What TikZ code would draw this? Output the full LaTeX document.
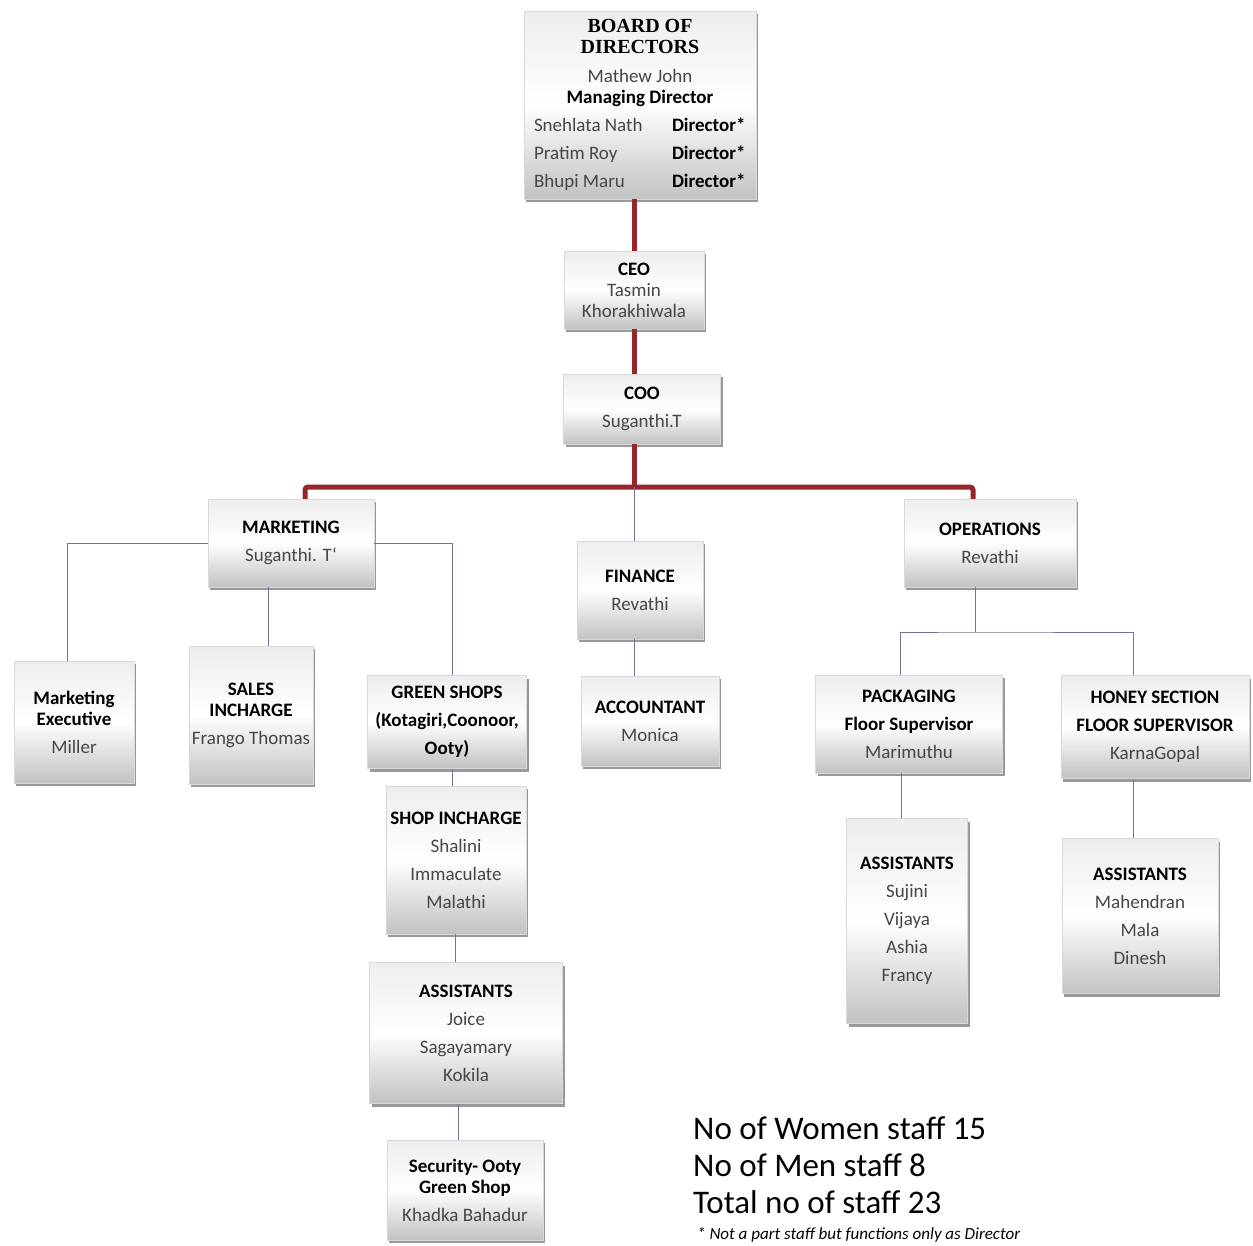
\documentclass[tikz,border=0pt]{standalone}
\usepackage{fontspec}
\setmainfont{Carlito}
\newfontfamily\headfont{Liberation Serif}
\usetikzlibrary{shadows}
\definecolor{redln}{RGB}{150,38,44}
\definecolor{conncol}{RGB}{115,115,155}
\definecolor{nmcol}{RGB}{70,70,70}
\newcommand\pname[1]{{\color{nmcol}#1}}
\begin{document}
\begin{tikzpicture}[x=1pt,y=-1pt,
 box/.style={draw=gray!30, line width=0.4pt, top color=gray!14, bottom color=gray!48, middle color=white,
   drop shadow={shadow xshift=2pt,shadow yshift=-3pt,opacity=0.4,fill=black},
   align=center, font=\fontsize{19}{28}\selectfont, inner sep=1pt, text=black},
 redline/.style={draw=redln, line width=5pt, rounded corners=3pt},
 conn/.style={draw=conncol, line width=0.8pt},
 stat/.style={font=\fontsize{33}{39}\selectfont, anchor=base west, inner sep=0pt}]
\useasboundingbox[fill=white] (0,0) rectangle (1253,1245);

% boxes
\node[box, minimum width=232, minimum height=188] (board) at (640,105) {%
{\headfont\bfseries\fontsize{20}{28}\selectfont BOARD OF}\\[-7pt]
{\headfont\bfseries\fontsize{20}{28}\selectfont DIRECTORS}\\[1pt]
\pname{Mathew John}\\[-7pt]
\textbf{Managing Director}\\
\makebox[212pt][l]{\pname{Snehlata Nath}\hfill\makebox[74pt][l]{\textbf{Director*}}}\\
\makebox[212pt][l]{\pname{Pratim Roy}\hfill\makebox[74pt][l]{\textbf{Director*}}}\\
\makebox[212pt][l]{\pname{Bhupi Maru}\hfill\makebox[74pt][l]{\textbf{Director*}}}};

\node[box, minimum width=140, minimum height=78] (ceo) at (634,290)
 {\textbf{CEO}\\[-7pt]\pname{Tasmin}\\[-7pt]\pname{Khorakhiwala}};
\node[box, minimum width=157, minimum height=70] (coo) at (642,409)
 {\textbf{COO}\\\pname{Suganthi.T}};

\node[box, minimum width=166, minimum height=88] (mkt) at (291,543)
 {\textbf{MARKETING}\\\pname{Suganthi. T`}};
\node[box, minimum width=126, minimum height=98] (fin) at (640,590)
 {\textbf{FINANCE}\\\pname{Revathi}};
\node[box, minimum width=172, minimum height=88] (ops) at (990,543)
 {\textbf{OPERATIONS}\\\pname{Revathi}};

\node[box, minimum width=120, minimum height=122] (mexec) at (74,722)
 {\textbf{Marketing}\\[-7pt]\textbf{Executive}\\\pname{Miller}};
\node[box, minimum width=124, minimum height=138] (sales) at (251,715)
 {\textbf{SALES}\\[-7pt]\textbf{INCHARGE}\\\pname{Frango Thomas}};
\node[box, minimum width=159, minimum height=93] (green) at (447,722)
 {\textbf{GREEN SHOPS}\\\textbf{(Kotagiri,Coonoor,}\\\textbf{Ooty)}};
\node[box, minimum width=140, minimum height=148] (shopinc) at (456,860)
 {\textbf{SHOP INCHARGE}\\\pname{Shalini}\\\pname{Immaculate}\\\pname{Malathi}};
\node[box, minimum width=193, minimum height=141] (asst1) at (466,1033)
 {\textbf{ASSISTANTS}\\\pname{Joice}\\\pname{Sagayamary}\\\pname{Kokila}};
\node[box, minimum width=156, minimum height=100] (sec) at (465,1190)
 {\textbf{Security- Ooty}\\[-7pt]\textbf{Green Shop}\\\pname{Khadka Bahadur}};

\node[box, minimum width=138, minimum height=90] (acc) at (650,721)
 {\textbf{ACCOUNTANT}\\\pname{Monica}};

\node[box, minimum width=187, minimum height=98] (pack) at (909,724)
 {\textbf{PACKAGING}\\\textbf{Floor Supervisor}\\\pname{Marimuthu}};
\node[box, minimum width=188, minimum height=103] (honey) at (1155,727)
 {\textbf{HONEY SECTION}\\\textbf{FLOOR SUPERVISOR}\\\pname{KarnaGopal}};
\node[box, minimum width=121, minimum height=205] (asst2) at (907,921)
 {\textbf{ASSISTANTS}\\\pname{Sujini}\\\pname{Vijaya}\\\pname{Ashia}\\\pname{Francy}};
\node[box, minimum width=156, minimum height=155] (asst3) at (1140,916)
 {\textbf{ASSISTANTS}\\\pname{Mahendran}\\\pname{Mala}\\\pname{Dinesh}};

% red connectors
\coordinate (bar) at (634,487);
\draw[redline] (ceo.north |- board.south) -- (ceo.north);
\draw[redline] (ceo.south) -- (ceo.south |- coo.north);
\draw[redline] (coo.south -| bar) -- (bar);
\draw[redline] ([xshift=14pt]mkt.north) |- (bar) -| ([xshift=-17pt]ops.north);

% thin connectors
\draw[conn] (bar) -- (bar |- fin.north);
\draw[conn] (fin.south -| bar) -- (bar |- acc.north);
\draw[conn] (mkt.west) -| ([xshift=-7pt]mexec.north);
\draw[conn] ([xshift=17pt]sales.north) -- ([xshift=17pt]sales.north |- mkt.south);
\draw[conn] (mkt.east) -| ([xshift=5pt]green.north);
\draw[conn] ([xshift=-4pt]shopinc.north) -- ([xshift=-4pt]shopinc.north |- green.south);
\draw[conn] ([xshift=-1pt]shopinc.south) -- ([xshift=-1pt]shopinc.south |- asst1.north);
\draw[conn] ([xshift=-7pt]sec.north) -- ([xshift=-7pt]sec.north |- asst1.south);
\coordinate (oj) at (975,632);
\draw[conn] (ops.south -| oj) -- (oj);
\draw[conn] ([xshift=-9pt]pack.north) |- (oj) -| ([xshift=-22pt]honey.north);
\draw[conn] ([xshift=-6pt]asst2.north) -- ([xshift=-6pt]asst2.north |- pack.south);
\draw[conn] ([xshift=-7pt]asst3.north) -- ([xshift=-7pt]asst3.north |- honey.south);

% staff statistics
\node[stat] (women) at (693,1139) {No of Women staff 15};
\node[stat] (men) at (693,1176) {No of Men staff 8};
\node[stat] (total) at (693,1213) {Total no of staff 23};
\node[stat, font=\fontsize{17}{22}\selectfont\itshape] (note) at (697,1239) {* Not a part staff but functions only as Director};
\end{tikzpicture}
\end{document}
